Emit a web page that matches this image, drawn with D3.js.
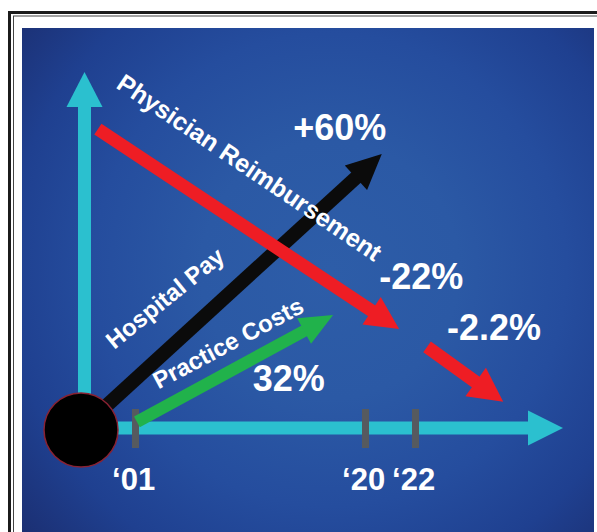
<!DOCTYPE html>
<html>
<head>
<meta charset="utf-8">
<script src="https://cdn.jsdelivr.net/npm/d3@7"></script>
<style>
  html, body { margin: 0; padding: 0; background: #ffffff; }
  svg { display: block; }
</style>
</head>
<body>
<svg id="chart" width="597" height="532"></svg>
<script>
// ---- data ----
const years = [2001, 2020, 2022];
const yearLabels = ["\u201801", "\u201820", "\u201822"];
const seriesNames = ["Physician Reimbursement", "Hospital Pay", "Practice Costs"];
const changeSince2001 = [-22, 60, 32];      // % change, 2001 → 2020
const changeRecent = [-2.2];                 // physician reimbursement, 2020 → 2022
const showPlusSign = [false, true, false];

// ---- layout ----
const svg = d3.select("#chart");
const defs = svg.append("defs");

// Schematic axes: 0..100 in both directions, origin at the black disc
const sx = d3.scaleLinear().domain([0, 100]).range([81, 563]);
const sy = d3.scaleLinear().domain([0, 100]).range([429, 72]);
// Time axis ticks
const xYear = d3.scaleLinear().domain(years).range([135, 365, 415]);

const colors = {
  axis: "#2bc0cf",
  tick: "#565a5f",
  physician: "#ee1d24",
  hospital: "#0b0b0b",
  costs: "#21b24b",
  text: "#ffffff"
};

// Trend arrows in schematic units
const trendArrows = [
  { key: "costs",     from: [11.6, 2.0],  to: [52.3, 31.9], width: 12, head: [33, 29] },
  { key: "hospital",  from: [0, 0],       to: [62.4, 77.0], width: 14, head: [35, 33] },
  { key: "physician", from: [3.5, 84.0],  to: [66.0, 28.0], width: 13, head: [33, 33] },
  { key: "physician", from: [71.8, 23.0], to: [87.6, 7.6],  width: 13, head: [34, 35] }
];

// Series-name placement (schematic units + rotation in degrees)
const nameLayout = [
  { at: [35.0, 73.3], angle: 34,  size: 25 },
  { at: [17.4, 36.7], angle: -39, size: 24 },
  { at: [30.5, 24.1], angle: -28, size: 24 }
];
// Value-label placement (schematic units)
const valueLayout = [
  { at: [70.6, 42.8] },   // physician 2001→2020
  { at: [53.7, 84.4] },   // hospital
  { at: [43.1, 14.2] }    // practice costs
];
const recentLayout = [{ at: [85.7, 28.3] }];

// ---- background ----
const bg = defs.append("radialGradient").attr("id", "bg")
  .attr("gradientUnits", "userSpaceOnUse")
  .attr("cx", 330).attr("cy", 270).attr("r", 430);
[[0, "#2d5da8"], [0.3, "#2b59a5"], [0.55, "#254d9e"], [0.75, "#1f4090"], [1, "#1a2a6a"]]
  .forEach(([o, c]) => bg.append("stop").attr("offset", o).attr("stop-color", c));

// double frame
svg.append("rect").attr("x", 9.5).attr("y", 12.5).attr("width", 620).attr("height", 560)
  .attr("fill", "none").attr("stroke", "#1b1b1b").attr("stroke-width", 3);
svg.append("rect").attr("x", 13.5).attr("y", 16).attr("width", 620).attr("height", 560)
  .attr("fill", "none").attr("stroke", "#444").attr("stroke-width", 1);

svg.append("rect").attr("x", 22).attr("y", 28).attr("width", 572).attr("height", 520)
  .attr("fill", "url(#bg)");

// ---- arrow helper ----
function arrow(g, x1, y1, x2, y2, color, width, headLen, headWidth) {
  const dx = x2 - x1, dy = y2 - y1, len = Math.hypot(dx, dy);
  const ux = dx / len, uy = dy / len, px = -uy, py = ux;
  const bx = x2 - ux * headLen, by = y2 - uy * headLen;
  g.append("line")
    .attr("x1", x1).attr("y1", y1)
    .attr("x2", bx + ux * 2).attr("y2", by + uy * 2)
    .attr("stroke", color).attr("stroke-width", width);
  g.append("path")
    .attr("d", d3.line()([
      [x2, y2],
      [bx + px * headWidth / 2, by + py * headWidth / 2],
      [bx - px * headWidth / 2, by - py * headWidth / 2]
    ]) + "Z")
    .attr("fill", color);
}

// ---- axes ----
const axes = svg.append("g");
arrow(axes, sx(0) + 3.5, sy(0), sx(0) + 3.5, sy(100), colors.axis, 13, 35, 36);
arrow(axes, sx(0), sy(0) - 1, sx(100), sy(0) - 1, colors.axis, 13, 35, 35);

// year ticks
const xAxis = d3.axisBottom(xYear)
  .tickValues(years)
  .tickFormat((d, i) => yearLabels[i])
  .tickSize(39)
  .tickPadding(20);
const gx = svg.append("g")
  .attr("transform", `translate(0,${sy(0) - 20})`)
  .call(xAxis);
gx.select(".domain").remove();
gx.selectAll(".tick line")
  .attr("stroke", colors.tick).attr("stroke-width", 7);
gx.selectAll(".tick text")
  .attr("fill", colors.text)
  .attr("font-family", "'Liberation Sans', Arial, sans-serif")
  .attr("font-weight", "bold")
  .attr("font-size", 31)
  .attr("dx", "-0.06em");

// ---- trend arrows ----
const marks = svg.append("g");
trendArrows.forEach(a => {
  arrow(marks, sx(a.from[0]), sy(a.from[1]), sx(a.to[0]), sy(a.to[1]),
    colors[a.key], a.width, a.head[0], a.head[1]);
});

// origin disc
svg.append("circle")
  .attr("cx", sx(0)).attr("cy", sy(0) + 1).attr("r", 37)
  .attr("fill", "#000").attr("stroke", "#8a2232").attr("stroke-width", 1.5);

// ---- labels ----
const labels = svg.append("g")
  .attr("fill", colors.text)
  .attr("font-family", "'Liberation Sans', Arial, sans-serif")
  .attr("font-weight", "bold")
  .attr("text-anchor", "middle")
  .attr("dominant-baseline", "central");

labels.selectAll("text.name")
  .data(seriesNames)
  .join("text")
  .attr("class", "name")
  .attr("font-size", (d, i) => nameLayout[i].size)
  .attr("transform", (d, i) =>
    `translate(${sx(nameLayout[i].at[0])},${sy(nameLayout[i].at[1])}) rotate(${nameLayout[i].angle})`)
  .text(d => d);

const fmtChange = (v, plus) => (plus && v > 0 ? "+" : "") + v + "%";

labels.selectAll("text.value")
  .data(changeSince2001)
  .join("text")
  .attr("class", "value")
  .attr("font-size", 36)
  .attr("x", (d, i) => sx(valueLayout[i].at[0]))
  .attr("y", (d, i) => sy(valueLayout[i].at[1]))
  .text((d, i) => fmtChange(d, showPlusSign[i]));

labels.selectAll("text.recent")
  .data(changeRecent)
  .join("text")
  .attr("class", "recent")
  .attr("font-size", 36)
  .attr("x", (d, i) => sx(recentLayout[i].at[0]))
  .attr("y", (d, i) => sy(recentLayout[i].at[1]))
  .text(d => fmtChange(d, false));
</script>
</body>
</html>
